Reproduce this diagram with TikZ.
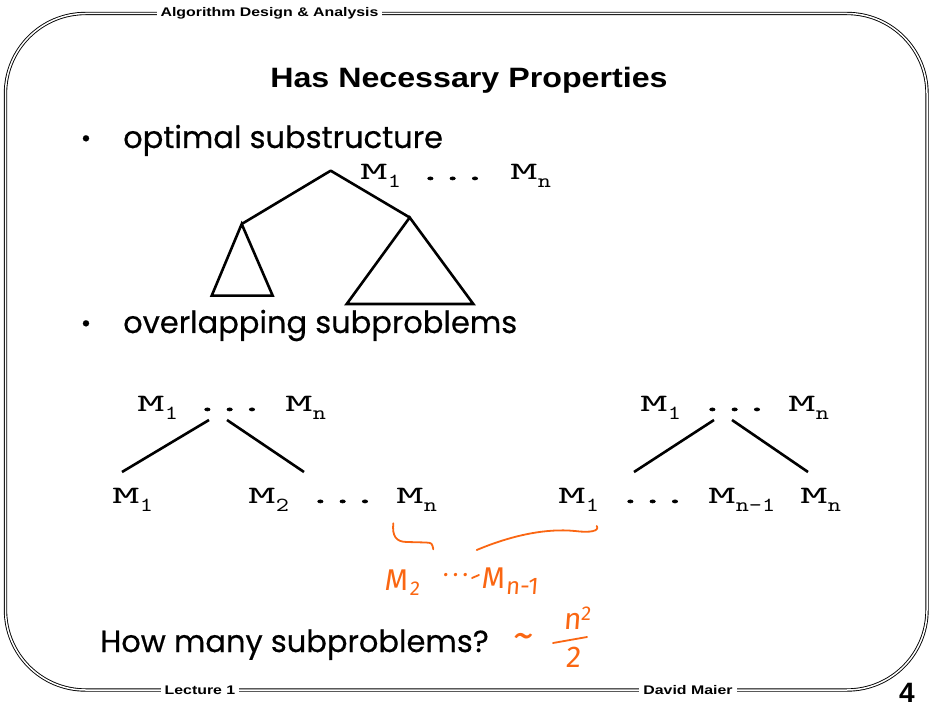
\documentclass[tikz,border=0pt]{standalone}
\usepackage{fontspec}
\setmainfont{Liberation Sans}
\newfontfamily\hdrfont[FakeStretch=1.27]{Liberation Sans}
\newfontfamily\titfont[FakeStretch=1.15]{Liberation Sans}
\newfontfamily\comicfont[FakeBold=0.5]{Poppins}
\newfontfamily\mtM[Extension=.otf,FakeStretch=2.1]{lmmono10-regular}
\newfontfamily\mtD[Extension=.otf,FakeStretch=1.7,FakeBold=2.5]{lmmono10-regular}
\newfontfamily\mtS[Extension=.otf,FakeStretch=1.25]{lmmono10-regular}
\newfontfamily\handfont[FakeSlant=0.08]{Fira Sans}
\definecolor{ink}{RGB}{250,102,18}
\newcommand\Mtok[1]{{\mtM\fontsize{25}{25}\selectfont M}\raisebox{-8pt}{\mtS\fontsize{20}{20}\selectfont #1}}
\newcommand\Dtok{{\mtD\fontsize{25}{25}\selectfont ...}}
\tikzset{
  tok/.style={inner sep=0pt, anchor=base west},
  comic/.style={inner sep=0pt, anchor=base west, font=\comicfont\fontsize{30.5}{30.5}\selectfont},
  treeline/.style={line width=2.6pt},
  hand/.style={ink, line width=1.8pt, line cap=round, line join=round},
  handtxt/.style={inner sep=0pt, text=ink, font=\handfont\fontsize{30}{30}\selectfont},
  frame/.style={double, double distance=1.5pt, line width=0.9pt, rounded corners=80pt},
  hdr/.style={fill=white, inner xsep=4pt, inner ysep=1pt, font=\hdrfont\bfseries\fontsize{12.5}{12.5}\selectfont}
}
\begin{document}
\begin{tikzpicture}[x=1pt,y=-1pt]
\useasboundingbox (0,0) rectangle (931,708);
% frame
\draw[frame] (5.5,13.5) rectangle (927,690);
\node[hdr] (header) at (269.5,13.5) {Algorithm Design \& Analysis};
\node[hdr] (lect) at (200,690) {Lecture 1};
\node[hdr] (author) at (688,690) {David Maier};
\node[inner sep=0pt, font=\bfseries\fontsize{28}{28}\selectfont] (pageno) at (907,693) {4};
% title
\node[inner sep=0pt, anchor=base, font=\titfont\bfseries\fontsize{28}{28}\selectfont] (title) at (469,88) {Has Necessary Properties};
% bullets
\node[inner sep=0pt, font=\comicfont\fontsize{25}{25}\selectfont] (bul1) at (86,141) {•};
\node[comic] (b1) at (123,148) {optimal substructure};
\node[inner sep=0pt, font=\comicfont\fontsize{25}{25}\selectfont] (bul2) at (86,326) {•};
\node[comic] (b2) at (123,333) {overlapping subproblems};
\node[comic] (q) at (100,652) {How many subproblems?};
% tree 1
\coordinate (r1) at (330.7,170.7);
\coordinate (l1) at (241.7,224);
\coordinate (rr1) at (409.7,217.5);
\coordinate (la) at (211.7,295.7);
\coordinate (lb) at (272.7,295.7);
\coordinate (ra) at (346.7,304);
\coordinate (rb) at (473.3,304);
\draw[treeline, line join=round] (l1) -- (r1) -- (rr1);
\draw[treeline, line join=miter] (l1) -- (la) -- (lb) -- cycle;
\draw[treeline, line join=miter] (rr1) -- (ra) -- (rb) -- cycle;
\node[tok] (t1m1) at (360,180) {\Mtok{1}};
\node[tok] (t1d) at (419,180) {\Dtok};
\node[tok] (t1mn) at (510,180) {\Mtok{n}};
% tree 2
\node[tok] (t2m1) at (137,411) {\Mtok{1}};
\node[tok] (t2d) at (196,411) {\Dtok};
\node[tok] (t2mn) at (285,411) {\Mtok{n}};
\coordinate (t2a) at (209,420);
\coordinate (t2b) at (227,420);
\coordinate (t2l) at (122,472);
\coordinate (t2r) at (304,472);
\draw[treeline] (t2a) -- (t2l);
\draw[treeline] (t2b) -- (t2r);
\node[tok] (t2c1) at (112,503) {\Mtok{1}};
\node[tok] (t2c2) at (248,503) {\Mtok{2}};
\node[tok] (t2cd) at (309,503) {\Dtok};
\node[tok] (t2cn) at (396,503) {\Mtok{n}};
% tree 3
\node[tok] (t3m1) at (640,411) {\Mtok{1}};
\node[tok] (t3d) at (701,411) {\Dtok};
\node[tok] (t3mn) at (788,411) {\Mtok{n}};
\coordinate (t3a) at (714,420);
\coordinate (t3b) at (732,420);
\coordinate (t3l) at (634,472);
\coordinate (t3r) at (808,472);
\draw[treeline] (t3a) -- (t3l);
\draw[treeline] (t3b) -- (t3r);
\node[tok] (t3c1) at (558,503) {\Mtok{1}};
\node[tok] (t3cd) at (619,503) {\Dtok};
\node[tok] (t3cm) at (708,503) {\Mtok{n-1}};
\node[tok] (t3cn) at (800,503) {\Mtok{n}};
% handwriting
\draw[hand] (393.3,523.3) .. controls (392,536) and (396,542) .. (407,542) -- (426,542.5) .. controls (432,543) .. (433.3,549.3);
\draw[hand] (476.7,550) .. controls (510,536) and (545,528) .. (575,531) .. controls (590,533) and (600,531) .. (596.7,526);
\node[handtxt, anchor=base west] (hm2) at (384,590) {M\kern2pt\raisebox{-5pt}{\fontsize{20}{20}\selectfont 2}};
\node[handtxt, font=\handfont\fontsize{24}{24}\selectfont] (hdots) at (455,578) {·\,·\,·};
\coordinate (tk1) at (472,578);
\coordinate (tk2) at (479,575);
\draw[hand] (tk1) -- (tk2);
\node[handtxt, anchor=base west] (hmn) at (481,588) {M\kern1pt\raisebox{-6pt}{\fontsize{24}{24}\selectfont n-1}};
\node[handtxt, font=\handfont\fontsize{42}{42}\selectfont] (tilde) at (523,641) {\textasciitilde};
\node[handtxt] (num) at (577,618) {n\raisebox{9pt}{\fontsize{20}{20}\selectfont 2}};
\coordinate (bar1) at (553,643);
\coordinate (bar2) at (587,637);
\draw[hand] (bar1) -- (bar2);
\node[handtxt] (den) at (573,657) {2};
\end{tikzpicture}
\end{document}
